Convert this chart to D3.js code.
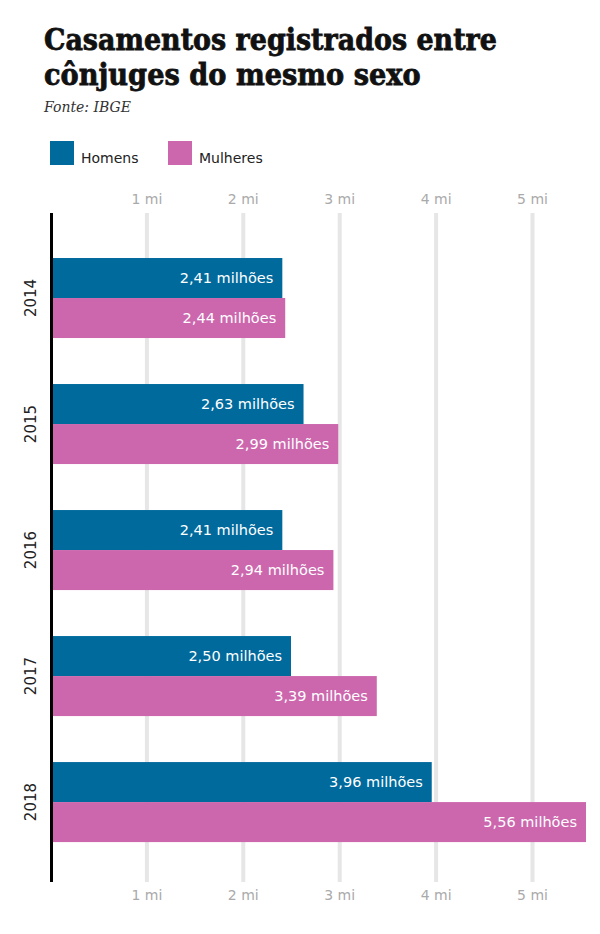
<!DOCTYPE html>
<html><head><meta charset="utf-8">
<script src="https://cdn.jsdelivr.net/npm/d3@7"></script>
<style>
body{margin:0;background:#fff;}
svg{display:block;}
</style></head>
<body>
<svg id="chart" width="600" height="934"></svg>
<script>
const years = ["2014","2015","2016","2017","2018"];
const series = ["Homens","Mulheres"];
const homens = [2.41, 2.63, 2.41, 2.50, 3.96];
const mulheres = [2.44, 2.99, 2.94, 3.39, 5.56];
const tickValues = [1,2,3,4,5];
const tickLabels = ["1 mi","2 mi","3 mi","4 mi","5 mi"];
const colors = ["#006a9d","#cc67ae"];
const titleLines = ["Casamentos registrados entre","cônjuges do mesmo sexo"];
const source = "Fonte: IBGE";

const svg = d3.select("#chart");
const sans = "'DejaVu Sans', sans-serif";

// Title: each line horizontally condensed to the reference width
const tl = [{t:titleLines[0], y:50, w:453},{t:titleLines[1], y:85, w:377}];
tl.forEach(l=>{
  const t = svg.append("text")
    .attr("font-family","'DejaVu Serif', serif").attr("font-weight","bold")
    .attr("font-size",30).attr("fill","#111").attr("stroke","#111").attr("stroke-width",0.8)
    .text(l.t);
  const natural = t.node().getComputedTextLength();
  t.attr("transform",`translate(44,${l.y}) scale(${l.w/natural},1)`);
});
svg.append("text").attr("x",44).attr("y",112)
  .attr("font-family","'DejaVu Serif', serif").attr("font-style","italic")
  .attr("font-size",14).attr("fill","#333").text(source);

// Legend
const legX = [50,168];
series.forEach((s,i)=>{
  svg.append("rect").attr("x",legX[i]).attr("y",141).attr("width",24).attr("height",24).attr("fill",colors[i]);
  svg.append("text").attr("x",legX[i]+31).attr("y",163)
    .attr("font-family",sans).attr("font-size",14).attr("fill","#222").text(s);
});

// Scales
const yTop = 213, yBottom = 882;
const x = d3.scaleLinear().domain([0,5.6]).range([50, 50+5.6*96.4]);
const y = d3.scaleBand().domain(years).range([yTop,yBottom]).paddingInner(0.365).paddingOuter(0.337).align(0.53);
const ys = d3.scaleBand().domain(series).range([0,y.bandwidth()]);

// Gridlines
svg.append("g").attr("transform",`translate(0,${yBottom})`)
  .call(d3.axisBottom(x).tickValues(tickValues).tickSize(-(yBottom-yTop)).tickFormat(""))
  .call(g=>g.select(".domain").remove())
  .call(g=>g.selectAll(".tick line").attr("stroke","#e6e6e6").attr("stroke-width",4));

// Tick label axes
const fmt = (d)=>tickLabels[tickValues.indexOf(d)];
svg.append("g").attr("transform",`translate(0,${yTop})`)
  .call(d3.axisTop(x).tickValues(tickValues).tickSize(0).tickPadding(9).tickFormat(fmt))
  .call(g=>g.select(".domain").remove())
  .call(g=>g.selectAll("text").attr("font-family",sans).attr("font-size",14).attr("fill","#aaa"));
svg.append("g").attr("transform",`translate(0,${yBottom})`)
  .call(d3.axisBottom(x).tickValues(tickValues).tickSize(0).tickPadding(8).tickFormat(fmt))
  .call(g=>g.select(".domain").remove())
  .call(g=>g.selectAll("text").attr("font-family",sans).attr("font-size",14).attr("fill","#aaa"));

// Bars
const rows = [];
years.forEach((yr,i)=>{
  rows.push({year:yr, s:series[0], v:homens[i], c:colors[0]});
  rows.push({year:yr, s:series[1], v:mulheres[i], c:colors[1]});
});
const bars = svg.append("g");
bars.selectAll("rect").data(rows).join("rect")
  .attr("x",x(0)).attr("y",d=>y(d.year)+ys(d.s))
  .attr("width",d=>x(d.v)-x(0)).attr("height",ys.bandwidth())
  .attr("fill",d=>d.c);
bars.selectAll("text").data(rows).join("text")
  .attr("x",d=>x(d.v)-9).attr("y",d=>y(d.year)+ys(d.s)+ys.bandwidth()/2)
  .attr("dy","0.36em").attr("text-anchor","end")
  .attr("font-family",sans).attr("font-size",14.5).attr("fill","#fff")
  .text(d=>d3.format(".2f")(d.v).replace(".",",")+" milhões");

// Y axis (years)
svg.append("line").attr("x1",51.5).attr("x2",51.5).attr("y1",yTop).attr("y2",yBottom)
  .attr("stroke","#000").attr("stroke-width",3);
svg.append("g").selectAll("text").data(years).join("text")
  .attr("transform",d=>`translate(36,${y(d)+y.bandwidth()/2}) rotate(-90)`)
  .attr("text-anchor","middle")
  .attr("font-family",sans).attr("font-size",15).attr("fill","#222")
  .text(d=>d);
</script>
</body></html>
